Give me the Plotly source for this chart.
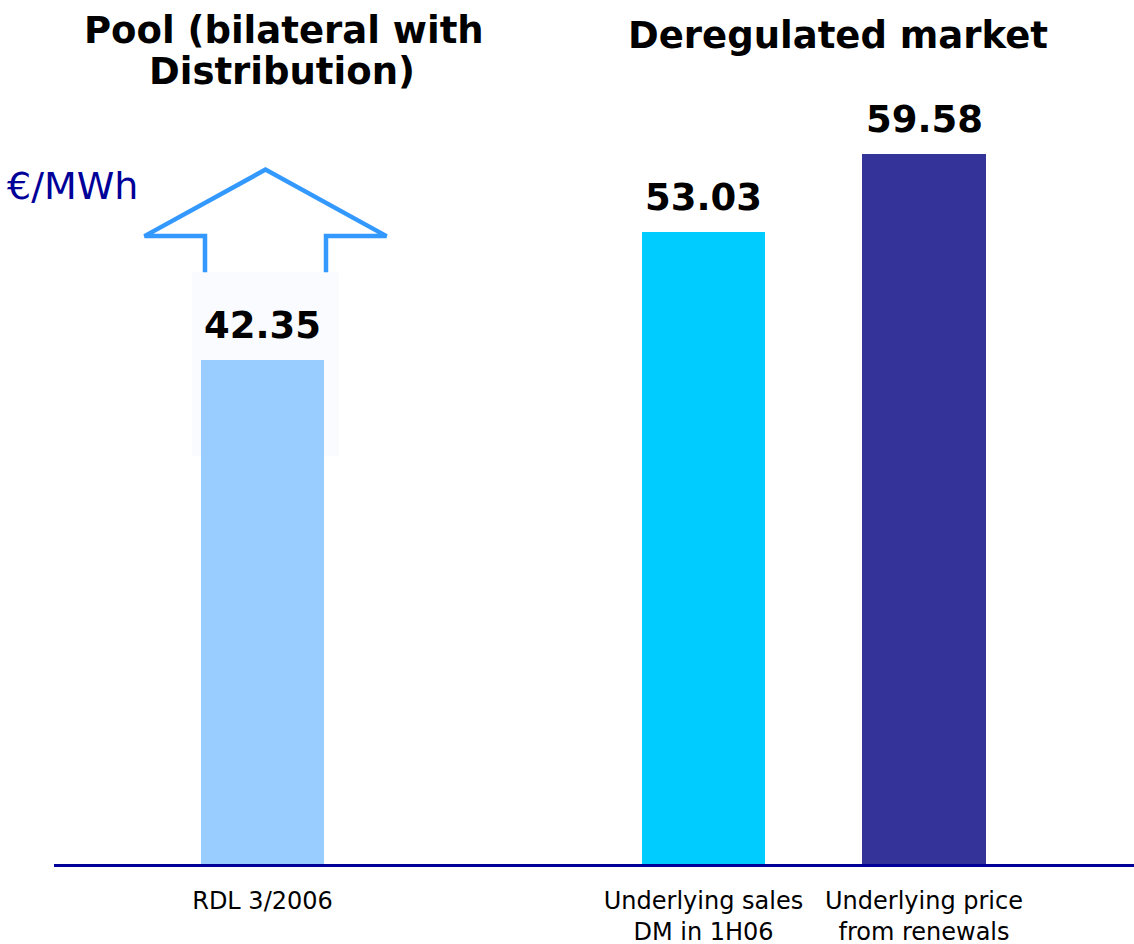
import plotly.graph_objects as go

# ---- data ----
categories = ["RDL 3/2006", "Underlying sales<br>DM in 1H06", "Underlying price<br>from renewals"]
positions = [0, 2, 3]
values = [42.35, 53.03, 59.58]
value_labels = ["42.35", "53.03", "59.58"]
bar_colors = ["#99CCFF", "#00CCFF", "#333399"]
group_titles = ["Pool (bilateral with", "Distribution)", "Deregulated market"]
unit_label = "€/MWh"

# ---- layout constants ----
W, H = 1134, 944
ML, MR, MT, MB = 54, 0, 100, 80
PW, PH = W - ML - MR, H - MT - MB
SLOT = 220.5             # px per x unit
X0PX = 262.5             # px of x=0
XMIN = (ML - X0PX) / SLOT
XMAX = (W - MR - X0PX) / SLOT
PXU = 11.91              # px per value unit
YMAX = PH / PXU


def dx(px):   # pixel offset -> x data units
    return px / SLOT


def dy(px):   # pixel offset -> y data units
    return px / PXU


def px2paper_x(px):
    return (px - ML) / PW


def py2paper(py):
    return (H - MB - py) / PH


fig = go.Figure()
fig.add_trace(go.Bar(
    x=positions, y=values, width=0.56,
    marker=dict(color=bar_colors, line=dict(width=0)),
    hoverinfo="skip", showlegend=False,
))

# value labels
for xp, v, t in zip(positions, values, value_labels):
    fig.add_annotation(x=xp, y=v, xref="x", yref="y", text=t, showarrow=False,
                       xanchor="center", yanchor="bottom", yshift=11,
                       font=dict(family="DejaVu Sans", size=37, color="black", weight="bold"))

# decorative outline arrow above the first bar
xc = positions[0] + dx(3)
ytop = values[0]
y_sh = ytop + dy(360 - 236.5)
y_apex = ytop + dy(360 - 170)
y_bot = ytop + dy(360 - 300)
xs_l, xs_r = xc - dx(60.5), xc + dx(60.5)
xw_l, xw_r = xc - dx(121), xc + dx(121)
path = (f"M {xs_l},{y_bot} L {xs_l},{y_sh} L {xw_l},{y_sh} L {xc},{y_apex} "
        f"L {xw_r},{y_sh} L {xs_r},{y_sh} L {xs_r},{y_bot}")
fig.add_shape(type="path", path=path, xref="x", yref="y", layer="below",
              line=dict(color="#3399FF", width=4.5), fillcolor="rgba(0,0,0,0)")
# faint label box covering the arrow stem
fig.add_shape(type="rect", xref="x", yref="y", layer="below",
              x0=positions[0] - dx(70.5), x1=positions[0] + dx(76.5),
              y0=ytop - dy(96.7), y1=ytop + dy(87.3),
              fillcolor="#F9FBFF", line=dict(width=0))

# group titles
title_font = dict(family="DejaVu Sans", size=37, color="black", weight="bold")
for txt, cx, cy in zip(group_titles, [284, 281.5, 838], [30, 72, 36]):
    fig.add_annotation(x=px2paper_x(cx), y=py2paper(cy), xref="paper", yref="paper",
                       text=txt, showarrow=False, font=title_font,
                       xanchor="center", yanchor="middle")

fig.add_annotation(x=px2paper_x(5), y=py2paper(186), xref="paper", yref="paper",
                   text=unit_label, showarrow=False, xanchor="left", yanchor="middle",
                   font=dict(family="DejaVu Sans", size=38, color="#000099"))

fig.update_layout(
    width=W, height=H,
    margin=dict(l=ML, r=MR, t=MT, b=MB, autoexpand=False),
    paper_bgcolor="white", plot_bgcolor="white",
    bargap=0,
    xaxis=dict(range=[XMIN, XMAX], tickvals=positions, ticktext=categories,
               showgrid=False, zeroline=False, showline=True,
               linecolor="#000099", linewidth=2.5, ticks="",
               tickfont=dict(family="DejaVu Sans", size=24, color="black"),
               ticklabelstandoff=13, automargin=False),
    yaxis=dict(range=[0, YMAX], visible=False, showgrid=False, zeroline=False,
               automargin=False),
)

fig.write_html("out.html")
